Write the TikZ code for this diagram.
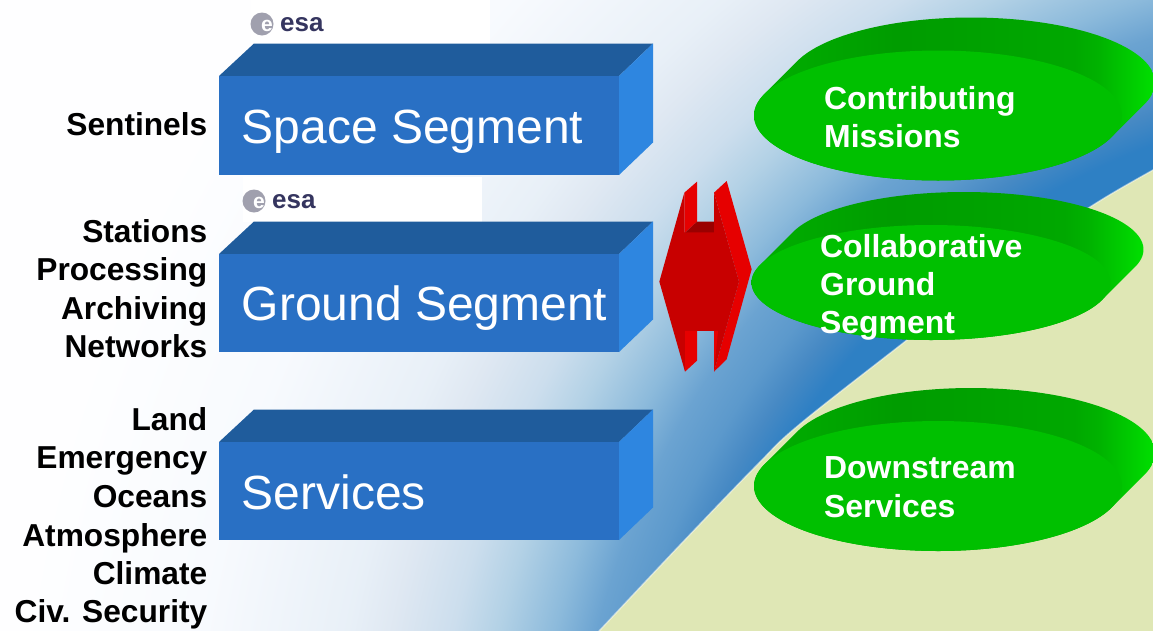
\documentclass[tikz,border=0pt]{standalone}
\usepackage{fontspec}
\setmainfont{Liberation Sans}
\usetikzlibrary{calc}
\definecolor{beige}{HTML}{DFE7B5}
\definecolor{boxfront}{HTML}{2970C4}
\definecolor{boxtop}{HTML}{1F5C9C}
\definecolor{boxside}{HTML}{2E86E0}
\definecolor{redfront}{HTML}{C80000}
\definecolor{redside}{HTML}{E60000}
\definecolor{reddark}{HTML}{9A0000}
\definecolor{discfront}{HTML}{00C000}
\definecolor{esatext}{HTML}{35355F}
\definecolor{esagrey}{HTML}{A0A0AE}
\pgfdeclareradialshading{bgsky}{\pgfpoint{0bp}{0bp}}{
 rgb(0bp)=(0.18,0.5,0.77);
 rgb(12.3bp)=(0.18,0.5,0.77);
 rgb(12.83bp)=(0.28,0.54,0.77);
 rgb(13.33bp)=(0.36,0.6,0.8);
 rgb(14bp)=(0.42,0.64,0.82);
 rgb(14.67bp)=(0.55,0.73,0.86);
 rgb(15.58bp)=(0.70,0.82,0.90);
 rgb(16.33bp)=(0.80,0.87,0.93);
 rgb(17.33bp)=(0.875,0.91,0.95);
 rgb(18.05bp)=(0.91,0.94,0.97);
 rgb(20.4bp)=(0.97,0.98,0.995);
 rgb(23.33bp)=(0.995,0.997,1);
 rgb(50bp)=(1,1,1)}
\pgfdeclarehorizontalshading{discshade}{100bp}{
 rgb(0bp)=(0,0.69,0);
 rgb(25bp)=(0,0.69,0);
 rgb(43bp)=(0,0.61,0);
 rgb(65bp)=(0,0.66,0);
 rgb(68bp)=(0,0.70,0);
 rgb(72bp)=(0,0.80,0);
 rgb(75bp)=(0,0.88,0);
 rgb(100bp)=(0,0.88,0)}
\tikzset{
 x=1pt,y=-1pt,
 bigtext/.style={text=white,font=\fontsize{48}{50}\selectfont,anchor=base west,inner sep=0pt},
 sidetext/.style={text=black,font=\bfseries\fontsize{31.7}{34}\selectfont,anchor=base east,inner sep=0pt},
 disctext/.style={text=white,font=\bfseries\fontsize{31.9}{34}\selectfont,anchor=base west,inner sep=0pt},
 esaword/.style={text=esatext,font=\bfseries\fontsize{26}{28}\selectfont,anchor=base west,inner sep=0pt},
 esaglyph/.style={text=white,font=\bfseries\fontsize{21}{22}\selectfont,anchor=base,inner sep=0pt}
}
% box: x of left, y of front top, height
\newcommand{\segbox}[3]{%
 \fill[boxtop] (#1,#2) -- ++(35,-32.5) -- ++(399,0) -- ++(-34,32.5) -- cycle;
 \fill[boxside] (#1+400,#2) -- ++(34,-32.5) -- ++(0,#3) -- ++(-34,32.5) -- cycle;
 \fill[boxfront] (#1,#2) rectangle ++(400,#3);
}
% disc: front centre x,y radii rx,ry, depth
\newcommand{\greendisc}[5]{%
 \shade[shading=discshade]
   plot[domain=199.5:379.5,samples=70] ({#1+#5+#3*cos(\x)},{#2-#5+#4*sin(\x)})
   -- plot[domain=19.5:199.5,samples=70] ({#1+#3*cos(\x)},{#2+#4*sin(\x)}) -- cycle;
 \fill[discfront] (#1,#2) ellipse [x radius=#3,y radius=#4];
}
\newcommand{\esalogo}[2]{%
 \fill[white] (#1,#2) rectangle ++(239,45);
 \fill[esagrey] (#1+11,#2+24) circle (11.5);
 \node[esaglyph] (esae#1) at (#1+16,#2+31) {e};
 \node[esaword] (esa#1) at (#1+29,#2+31.5) {esa};
}
\begin{document}
\begin{tikzpicture}
\useasboundingbox (0,0) rectangle (1153,630);
\begin{scope}
 \clip (0,0) rectangle (1153,630);
 \shade[shading=bgsky] (1411-1500,837-1500) rectangle (1411+1500,837+1500);
 \fill[beige] plot[smooth,tension=0.6] coordinates {(1190,150) (1153,170) (1090,207) (1000,268) (907,340) (800,424) (757,465) (680,545) (600,630) (570,662)}
   -- (1190,670) -- cycle;
 \draw[white,opacity=0.45,line width=1.5pt] plot[smooth,tension=0.6] coordinates {(1190,150) (1153,170) (1090,207) (1000,268) (907,340) (800,424) (757,465) (680,545) (600,630) (570,662)};
\end{scope}

\esalogo{251}{0}
\esalogo{243}{177}

\segbox{219}{76}{99}
\segbox{219}{254}{98}
\segbox{219}{442}{98}

\node[bigtext] (space) at (241.5,143) {Space Segment};
\node[bigtext] (ground) at (241.5,320) {Ground Segment};
\node[bigtext] (services) at (241.5,509) {Services};

\node[sidetext] (l1) at (207.5,135) {Sentinels};
\node[sidetext] (l2) at (207.5,242) {Stations};
\node[sidetext] (l3) at (207.5,280) {Processing};
\node[sidetext] (l4) at (207.5,319) {Archiving};
\node[sidetext] (l5) at (207.5,357) {Networks};
\node[sidetext] (l6) at (207.5,430) {Land};
\node[sidetext] (l7) at (207.5,468) {Emergency};
\node[sidetext] (l8) at (207.5,507) {Oceans};
\node[sidetext] (l9) at (207.5,546) {Atmosphere};
\node[sidetext] (l10) at (207.5,584) {Climate};
\node[sidetext] (l11) at (207.5,622) {Civ. Security};

% double arrow
\begin{scope}[shift={(640,170)},x=0.3333pt,y=-0.3333pt]
 \fill[redside] (133,68) -- (171,35) -- (171,155) -- (133,190) -- cycle;
 \fill[reddark] (133,190) -- (171,155) -- (222,155) -- (222,190) -- cycle;
 \fill[redside] (222,68) -- (260,33) -- (335,298) -- (260,568) -- (222,605) -- (297,335) -- cycle;
 \fill[redfront] (133,68) -- (133,187) -- (222,187) -- (222,68) -- (297,335) -- (222,605) -- (222,483) -- (135,483) -- (135,605) -- (58,335) -- cycle;
 \fill[redside] (135,483) -- (171,483) -- (171,572) -- (135,605) -- cycle;
 \fill[redside] (222,483) -- (234,483) -- (222,605) -- cycle;
\end{scope}

\greendisc{938}{115.5}{184}{65}{33}
\greendisc{931}{282.5}{179.5}{57.5}{33}
\greendisc{938}{486}{184}{65}{33}

\node[disctext] (d1) at (824,109) {Contributing};
\node[disctext] (d2) at (824,147) {Missions};
\node[disctext] (d3) at (820,257) {Collaborative};
\node[disctext] (d4) at (820,295) {Ground};
\node[disctext] (d5) at (820,333) {Segment};
\node[disctext] (d6) at (824,478) {Downstream};
\node[disctext] (d7) at (824,517) {Services};
\end{tikzpicture}
\end{document}
